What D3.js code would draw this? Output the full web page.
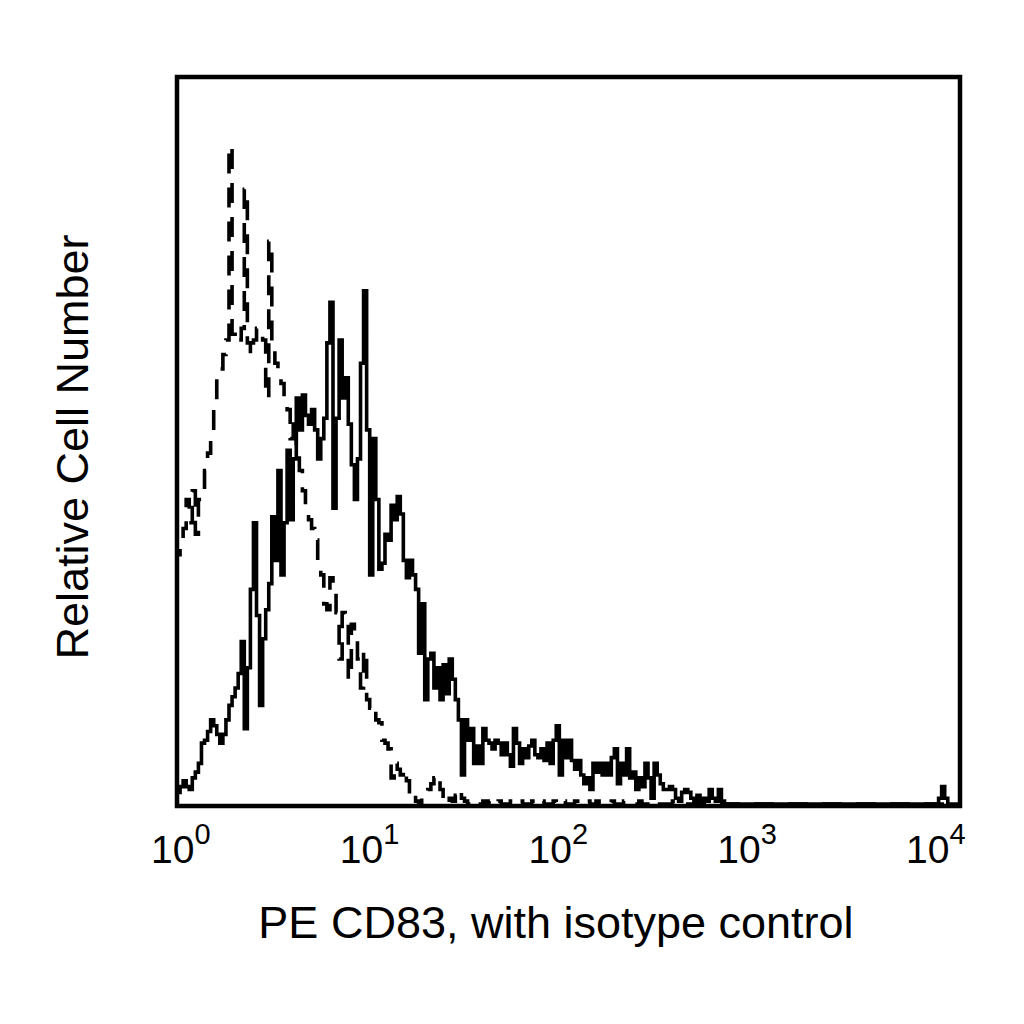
<!DOCTYPE html>
<html>
<head>
<meta charset="utf-8">
<script src="https://cdn.jsdelivr.net/npm/d3@7"></script>
<style>
  body { margin: 0; background: #fff; }
  svg { display: block; }
  text { font-family: "Liberation Sans", Arial, sans-serif; fill: #000; }
</style>
</head>
<body>
<div id="chart"></div>
<script>
// 256 log-spaced channels over 10^0 .. 10^4
const channelCount = 256;

// isotype control (dashed), counts per channel
const isotype = [
  86, 90, 95, 105, 97, 108, 93, 105, 108, 115, 121, 126, 138, 147, 150, 155,
  160, 227, 162, 159, 160, 164, 212, 159, 155, 160, 164, 162, 160, 140, 194, 159,
  152, 148, 145, 140, 136, 126, 133, 121, 115, 108, 103, 98, 95, 91, 81, 79,
  69, 67, 78, 74, 66, 50, 66, 64, 43, 62, 59, 50, 40, 53, 36, 33,
  34, 29, 28, 22, 21, 19, 9, 14, 12, 10, 12, 8, 2, 3, 1, 0,
  2, 3, 5, 7, 9, 10, 5, 1, 0, 2, 1, 3, 5, 2, 1, 0,
  0, 1, 0, 0, 1, 0, 1, 0, 0, 1, 0, 0, 0, 1, 0, 0,
  1, 0, 0, 0, 1, 0, 0, 1, 0, 0, 0, 1, 0, 0, 1, 0,
  0, 0, 1, 0, 0, 0, 1, 0, 0, 1, 0, 0, 0, 0, 1, 0,
  0, 0, 1, 0, 0, 0, 0, 1, 0, 0, 0, 0, 1, 0, 0, 0,
  0, 0, 1, 0, 0, 0, 0, 0, 0, 0, 0, 0, 0, 0, 0, 0,
  0, 0, 0, 0, 0, 0, 0, 0, 0, 0, 0, 0, 0, 0, 0, 0,
  0, 0, 0, 0, 0, 0, 0, 0, 0, 0, 0, 0, 0, 0, 0, 0,
  0, 0, 0, 0, 0, 0, 0, 0, 0, 0, 0, 0, 0, 0, 0, 0,
  0, 0, 0, 0, 0, 0, 0, 0, 0, 0, 0, 0, 0, 0, 0, 0,
  0, 0, 0, 0, 0, 0, 0, 0, 0, 0, 0, 0, 0, 0, 0, 0
];

// PE CD83 (solid), counts per channel
const cd83 = [
  4, 6, 8, 6, 5, 9, 11, 14, 21, 22, 25, 29, 27, 24, 21, 24,
  29, 34, 37, 40, 45, 56, 26, 47, 74, 97, 65, 34, 57, 67, 76, 99,
  84, 115, 79, 97, 122, 98, 119, 140, 129, 141, 134, 131, 136, 129, 119, 126,
  133, 159, 173, 102, 133, 160, 140, 147, 131, 117, 105, 119, 152, 177, 129, 79,
  126, 105, 81, 83, 93, 91, 103, 98, 106, 100, 84, 78, 84, 79, 74, 52,
  69, 36, 50, 52, 40, 47, 36, 48, 38, 50, 43, 36, 29, 10, 29, 22,
  26, 14, 20, 14, 26, 22, 21, 19, 22, 21, 17, 21, 17, 13, 26, 21,
  14, 19, 16, 20, 22, 17, 16, 19, 15, 21, 14, 22, 27, 10, 22, 16,
  22, 15, 12, 15, 10, 7, 9, 5, 14, 11, 14, 10, 14, 10, 16, 19,
  7, 14, 10, 19, 9, 11, 5, 9, 6, 14, 9, 2, 14, 10, 7, 5,
  5, 6, 5, 2, 1, 4, 5, 4, 2, 1, 3, 1, 2, 1, 5, 2,
  1, 5, 1, 0, 0, 0, 0, 0, 0, 0, 0, 0, 0, 0, 0, 0,
  0, 0, 0, 0, 0, 0, 0, 0, 0, 0, 0, 0, 0, 0, 0, 0,
  0, 0, 0, 0, 0, 0, 0, 0, 0, 0, 0, 0, 0, 0, 0, 0,
  0, 0, 0, 0, 0, 0, 0, 0, 0, 0, 0, 0, 0, 0, 0, 0,
  0, 0, 0, 0, 0, 0, 0, 0, 0, 2, 6, 2, 0, 0, 0, 0
];

const tickValues = [1, 10, 100, 1000, 10000];
const tickExponents = ["0", "1", "2", "3", "4"];

const xLabel = "PE CD83, with isotype control";
const yLabel = "Relative Cell Number";

let width = 1024, height = 1024;
let box = { left: 177, top: 77, right: 960, bottom: 806 };

let svg = d3.select("#chart").append("svg")
  .attr("width", width)
  .attr("height", height);

let x = d3.scaleLog()
  .domain([1, 1e4])
  .range([box.left, box.right]);

let y = d3.scaleLinear()
  .domain([0, 250])
  .range([804, 79]);

// bin edges in fluorescence units
let edges = d3.range(channelCount + 1).map(i => Math.pow(10, 4 * i / channelCount));

function histPoints(counts) {
  let pts = [[edges[0], 0]];
  counts.forEach((c, i) => pts.push([edges[i], c]));
  pts.push([edges[channelCount], 0]);
  return pts;
}

let line = d3.line()
  .x(d => x(d[0]))
  .y(d => y(d[1]))
  .curve(d3.curveStepAfter);

svg.append("clipPath")
  .attr("id", "plot-clip")
  .append("rect")
  .attr("x", box.left)
  .attr("y", box.top)
  .attr("width", box.right - box.left)
  .attr("height", box.bottom - box.top);

let plot = svg.append("g").attr("clip-path", "url(#plot-clip)");

plot.append("path")
  .datum(histPoints(isotype))
  .attr("d", line)
  .attr("fill", "none")
  .attr("stroke", "#000")
  .attr("stroke-width", 3.6)
  .attr("stroke-dasharray", "20,14");

plot.append("path")
  .datum(histPoints(cd83))
  .attr("d", line)
  .attr("fill", "none")
  .attr("stroke", "#000")
  .attr("stroke-width", 3.6);

svg.append("rect")
  .attr("x", box.left)
  .attr("y", box.top)
  .attr("width", box.right - box.left)
  .attr("height", box.bottom - box.top)
  .attr("fill", "none")
  .attr("stroke", "#000")
  .attr("stroke-width", 4.5);

// decade labels sit a little inside the frame ends
let labelX = d3.scaleLog()
  .domain([1, 1e4])
  .range([151, 906]);

let ticks = svg.append("g").attr("id", "x-ticks")
  .selectAll("text")
  .data(tickValues)
  .enter()
  .append("text")
  .attr("x", d => labelX(d))
  .attr("y", 863);

ticks.append("tspan")
  .attr("font-size", 39)
  .text("10");

ticks.append("tspan")
  .attr("font-size", 29)
  .attr("dy", -19)
  .text((d, i) => tickExponents[i]);

svg.append("text")
  .attr("x", 556)
  .attr("y", 938)
  .attr("text-anchor", "middle")
  .attr("font-size", 45)
  .text(xLabel);

svg.append("text")
  .attr("transform", "translate(88,447) rotate(-90)")
  .attr("text-anchor", "middle")
  .attr("font-size", 45)
  .text(yLabel);
</script>
</body>
</html>
